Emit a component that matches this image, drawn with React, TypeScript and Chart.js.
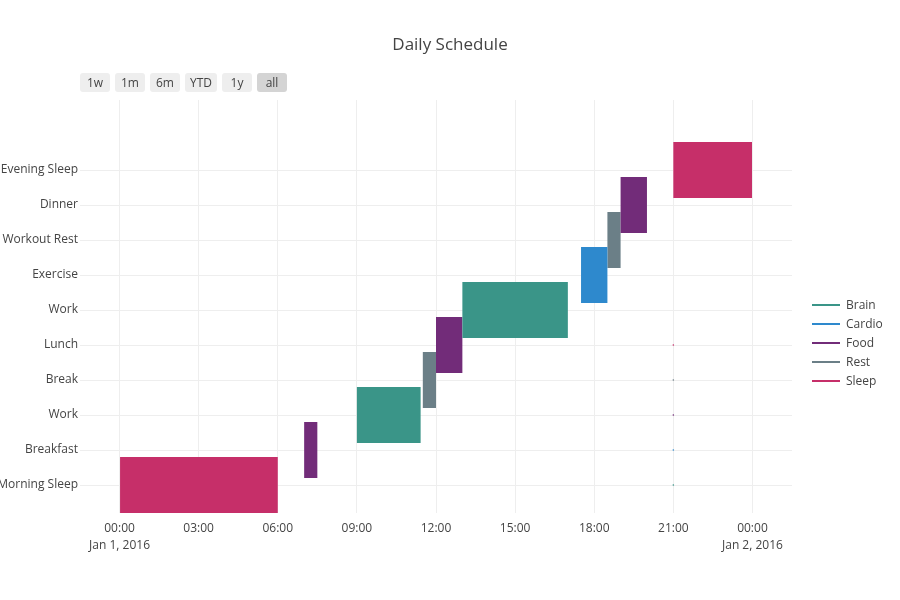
import React, { useEffect, useRef } from "react";
import { Chart, registerables } from "chart.js";

Chart.register(...registerables);

// ---- Data ----
const taskLabels = [
  "Morning Sleep",
  "Breakfast",
  "Work",
  "Break",
  "Lunch",
  "Work",
  "Exercise",
  "Workout Rest",
  "Dinner",
  "Evening Sleep",
];
// hours since Jan 1, 2016 00:00
const taskStart = [0, 7, 9, 11.5, 12, 13, 17.5, 18.5, 19, 21];
const taskFinish = [6, 7.5, 11.4167, 12, 13, 17, 18.5, 19, 20, 23.9833];
const taskResource = ["Sleep", "Food", "Brain", "Rest", "Food", "Brain", "Cardio", "Rest", "Food", "Sleep"];

const resources = ["Brain", "Cardio", "Food", "Rest", "Sleep"];
const resourceColors = [
  "rgb(58, 149, 136)",
  "rgb(46, 137, 205)",
  "rgb(114, 44, 121)",
  "rgb(107, 127, 135)",
  "rgb(198, 47, 105)",
];
// legend marker traces (tiny dots drawn by the original)
const legendDotHour = 21;

const xTickHours = [0, 3, 6, 9, 12, 15, 18, 21, 24];
const xTickLabels = ["00:00", "03:00", "06:00", "09:00", "12:00", "15:00", "18:00", "21:00", "00:00"];
const dateTickHours = [0, 24];
const dateTickLabels = ["Jan 1, 2016", "Jan 2, 2016"];

const xRange = [-1.5, 25.5];
const yRange = [-0.8, 11];

const rangeButtons = ["1w", "1m", "6m", "YTD", "1y", "all"];
const activeButton = "all";

const chartTitle = "Daily Schedule";

const FONT = "'Open Sans', 'Noto Sans', sans-serif";
const TEXT = "#444";
const GRID = "#eeeeee";

const overlayPlugin = {
  id: "overlay",
  afterDraw(chart: any) {
    const ctx = chart.ctx;
    const area = chart.chartArea;
    ctx.save();
    // title
    ctx.fillStyle = TEXT;
    ctx.font = `17px ${FONT}`;
    ctx.textAlign = "center";
    ctx.textBaseline = "middle";
    ctx.fillText(chartTitle, chart.width / 2, 45);
    // legend
    ctx.font = `12px ${FONT}`;
    ctx.textAlign = "left";
    const lx = area.right + 20;
    const ly0 = area.top + 205;
    resources.forEach((name, i) => {
      const y = ly0 + i * 19;
      ctx.strokeStyle = resourceColors[i];
      ctx.lineWidth = 2;
      ctx.beginPath();
      ctx.moveTo(lx, y);
      ctx.lineTo(lx + 28, y);
      ctx.stroke();
      ctx.fillStyle = TEXT;
      ctx.fillText(name, lx + 34, y + 0.5);
    });
    ctx.restore();
  },
};

export default function App() {
  const canvasRef = useRef<HTMLCanvasElement | null>(null);

  useEffect(() => {
    if (!canvasRef.current) return;

    const barDatasets = resources.map((res, ri) => ({
      type: "bar" as const,
      label: res,
      data: taskLabels
        .map((_, i) => i)
        .filter((i) => taskResource[i] === res)
        .map((i) => ({ y: i, x: [taskStart[i], taskFinish[i]] })),
      backgroundColor: resourceColors[ri],
      borderWidth: 0,
      grouped: false,
      categoryPercentage: 1,
      barPercentage: 1.6,
      order: 1,
    }));

    const dotDatasets = resources.map((res, ri) => ({
      type: "line" as const,
      label: res + " marker",
      data: [{ x: legendDotHour, y: ri }],
      showLine: false,
      pointRadius: 0.8,
      pointBorderWidth: 0,
      pointBackgroundColor: resourceColors[ri],
      order: 0,
    }));

    const chart = new Chart(canvasRef.current, {
      type: "bar",
      data: { datasets: [...barDatasets, ...dotDatasets] as any },
      options: {
        indexAxis: "y",
        responsive: false,
        animation: false,
        events: [],
        layout: { padding: { top: 100, right: 108, bottom: 0, left: 0 } },
        plugins: {
          legend: { display: false },
          title: { display: false },
          tooltip: { enabled: false },
        },
        scales: {
          x: {
            type: "linear",
            position: "bottom",
            offset: false,
            min: xRange[0],
            max: xRange[1],
            grid: { color: GRID, lineWidth: 1, drawTicks: false, offset: false },
            border: { display: false },
            afterBuildTicks: (s: any) => {
              s.ticks = xTickHours.map((v) => ({ value: v }));
            },
            afterFit: (s: any) => {
              s.height = 87;
            },
            ticks: {
              autoSkip: false,
              maxRotation: 0,
              padding: 7,
              color: TEXT,
              font: { family: FONT, size: 12, lineHeight: 1.4 },
              callback: (value: any) => {
                const idx = xTickHours.indexOf(value);
                const lab = idx >= 0 ? xTickLabels[idx] : "";
                const di = dateTickHours.indexOf(value);
                return di >= 0 ? [lab, dateTickLabels[di]] : lab;
              },
            },
          },
          y: {
            type: "linear",
            position: "left",
            offset: false,
            min: yRange[0],
            max: yRange[1],
            grid: { color: GRID, lineWidth: 1, drawTicks: false, offset: false },
            border: { display: false },
            afterBuildTicks: (s: any) => {
              s.ticks = taskLabels.map((_, i) => ({ value: i }));
            },
            afterFit: (s: any) => {
              s.width = 80;
            },
            ticks: {
              autoSkip: false,
              padding: 2,
              color: TEXT,
              font: { family: FONT, size: 12 },
              callback: (value: any) => taskLabels[value] ?? "",
            },
          },
        },
      } as any,
      plugins: [overlayPlugin],
    });

    return () => chart.destroy();
  }, []);

  return (
    <div style={{ position: "fixed", left: 0, top: 0, width: 900, height: 600, background: "#fff" }}>
      <canvas ref={canvasRef} width={900} height={600} style={{ position: "absolute", left: 0, top: 0 }} />
      <div
        style={{
          position: "absolute",
          left: 80,
          top: 73,
          display: "flex",
          gap: 5,
          fontFamily: FONT,
          fontSize: 12,
          color: TEXT,
        }}
      >
        {rangeButtons.map((b) => (
          <div
            key={b}
            style={{
              minWidth: 30,
              padding: b === "YTD" ? "0 5px" : "0",
              boxSizing: "border-box",
              height: 19,
              lineHeight: "19px",
              textAlign: "center",
              borderRadius: 3,
              background: b === activeButton ? "#d4d4d4" : "#eeeeee",
            }}
          >
            {b}
          </div>
        ))}
      </div>
    </div>
  );
}
